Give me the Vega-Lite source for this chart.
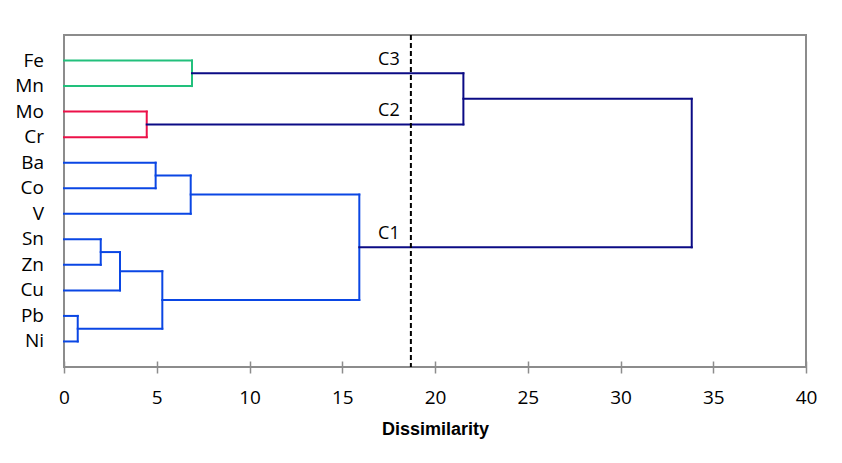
{
  "$schema": "https://vega.github.io/schema/vega-lite/v6.json",
  "width": 742,
  "height": 332,
  "autosize": "none",
  "padding": {"left": 64, "top": 35, "right": 36, "bottom": 96},
  "background": "white",
  "config": {
    "view": {"stroke": "#8c8c8c", "strokeWidth": 2},
    "font": "Open Sans",
    "axis": {"grid": false}
  },
  "datasets": {
    "segments": [
      {"x": 0, "x2": 6.9, "y": 1, "y2": 1, "group": "C3"},
      {"x": 0, "x2": 6.9, "y": 2, "y2": 2, "group": "C3"},
      {"x": 6.9, "x2": 6.9, "y": 1, "y2": 2, "group": "C3"},
      {"x": 0, "x2": 4.46, "y": 3, "y2": 3, "group": "C2"},
      {"x": 0, "x2": 4.46, "y": 4, "y2": 4, "group": "C2"},
      {"x": 4.46, "x2": 4.46, "y": 3, "y2": 4, "group": "C2"},
      {"x": 0, "x2": 4.94, "y": 5, "y2": 5, "group": "C1"},
      {"x": 0, "x2": 4.94, "y": 6, "y2": 6, "group": "C1"},
      {"x": 4.94, "x2": 4.94, "y": 5, "y2": 6, "group": "C1"},
      {"x": 4.94, "x2": 6.83, "y": 5.5, "y2": 5.5, "group": "C1"},
      {"x": 0, "x2": 6.83, "y": 7, "y2": 7, "group": "C1"},
      {"x": 6.83, "x2": 6.83, "y": 5.5, "y2": 7, "group": "C1"},
      {"x": 6.83, "x2": 15.92, "y": 6.25, "y2": 6.25, "group": "C1"},
      {"x": 0, "x2": 1.98, "y": 8, "y2": 8, "group": "C1"},
      {"x": 0, "x2": 1.98, "y": 9, "y2": 9, "group": "C1"},
      {"x": 1.98, "x2": 1.98, "y": 8, "y2": 9, "group": "C1"},
      {"x": 1.98, "x2": 3.02, "y": 8.5, "y2": 8.5, "group": "C1"},
      {"x": 0, "x2": 3.02, "y": 10, "y2": 10, "group": "C1"},
      {"x": 3.02, "x2": 3.02, "y": 8.5, "y2": 10, "group": "C1"},
      {"x": 0, "x2": 0.74, "y": 11, "y2": 11, "group": "C1"},
      {"x": 0, "x2": 0.74, "y": 12, "y2": 12, "group": "C1"},
      {"x": 0.74, "x2": 0.74, "y": 11, "y2": 12, "group": "C1"},
      {"x": 3.02, "x2": 5.3, "y": 9.25, "y2": 9.25, "group": "C1"},
      {"x": 0.74, "x2": 5.3, "y": 11.5, "y2": 11.5, "group": "C1"},
      {"x": 5.3, "x2": 5.3, "y": 9.25, "y2": 11.5, "group": "C1"},
      {"x": 5.3, "x2": 15.92, "y": 10.375, "y2": 10.375, "group": "C1"},
      {"x": 15.92, "x2": 15.92, "y": 6.25, "y2": 10.375, "group": "C1"},
      {"x": 6.9, "x2": 21.53, "y": 1.5, "y2": 1.5, "group": "top"},
      {"x": 4.46, "x2": 21.53, "y": 3.5, "y2": 3.5, "group": "top"},
      {"x": 21.53, "x2": 21.53, "y": 1.5, "y2": 3.5, "group": "top"},
      {"x": 21.53, "x2": 33.84, "y": 2.5, "y2": 2.5, "group": "top"},
      {"x": 15.92, "x2": 33.84, "y": 8.3125, "y2": 8.3125, "group": "top"},
      {"x": 33.84, "x2": 33.84, "y": 2.5, "y2": 8.3125, "group": "top"}
    ],
    "leaves": [
      {"x": 0, "y": 1, "name": "Fe"},
      {"x": 0, "y": 2, "name": "Mn"},
      {"x": 0, "y": 3, "name": "Mo"},
      {"x": 0, "y": 4, "name": "Cr"},
      {"x": 0, "y": 5, "name": "Ba"},
      {"x": 0, "y": 6, "name": "Co"},
      {"x": 0, "y": 7, "name": "V"},
      {"x": 0, "y": 8, "name": "Sn"},
      {"x": 0, "y": 9, "name": "Zn"},
      {"x": 0, "y": 10, "name": "Cu"},
      {"x": 0, "y": 11, "name": "Pb"},
      {"x": 0, "y": 12, "name": "Ni"}
    ],
    "cut": [{"x": 18.7}],
    "labels": [
      {"x": 18.1, "y": 1.5, "label": "C3"},
      {"x": 18.1, "y": 3.5, "label": "C2"},
      {"x": 18.1, "y": 8.3125, "label": "C1"}
    ]
  },
  "layer": [
    {
      "data": {"name": "segments"},
      "mark": {"type": "rule", "strokeWidth": 2, "strokeCap": "square"},
      "encoding": {
        "x": {
          "field": "x", "type": "quantitative",
          "scale": {"domain": [0, 40], "nice": false, "zero": false},
          "axis": {
            "values": [0, 5, 10, 15, 20, 25, 30, 35, 40],
            "offset": -6, "tickSize": 12, "tickColor": "#8c8c8c", "tickWidth": 1.5,
            "domain": false, "labelFontSize": 19, "labelColor": "black",
            "labelPadding": 15, "labelFlush": false, "labelOverlap": false,
            "titleFont": "Liberation Sans", "titleFontWeight": "bold",
            "titleFontSize": 18, "titleColor": "black", "titlePadding": 13
          },
          "title": "Dissimilarity"
        },
        "x2": {"field": "x2"},
        "y": {
          "field": "y", "type": "quantitative",
          "scale": {"domain": [0, 13], "reverse": true, "nice": false, "zero": false},
          "axis": null
        },
        "y2": {"field": "y2"},
        "color": {
          "field": "group", "type": "nominal",
          "scale": {"domain": ["C3", "C2", "C1", "top"], "range": ["#22c07c", "#ec1149", "#0a46e4", "#0b0b85"]},
          "legend": null
        }
      }
    },
    {
      "data": {"name": "cut"},
      "mark": {"type": "rule", "color": "black", "strokeWidth": 2, "strokeDash": [5, 3]},
      "encoding": {
        "x": {"field": "x", "type": "quantitative", "title": "Dissimilarity"}
      }
    },
    {
      "data": {"name": "leaves"},
      "mark": {"type": "text", "align": "right", "baseline": "middle", "dx": -20, "fontSize": 19, "color": "black"},
      "encoding": {
        "x": {"field": "x", "type": "quantitative", "title": "Dissimilarity"},
        "y": {"field": "y", "type": "quantitative", "axis": null},
        "text": {"field": "name"}
      }
    },
    {
      "data": {"name": "labels"},
      "mark": {"type": "text", "align": "right", "baseline": "alphabetic", "dy": -8, "fontSize": 18, "color": "black"},
      "encoding": {
        "x": {"field": "x", "type": "quantitative", "title": "Dissimilarity"},
        "y": {"field": "y", "type": "quantitative", "axis": null},
        "text": {"field": "label"}
      }
    }
  ]
}
